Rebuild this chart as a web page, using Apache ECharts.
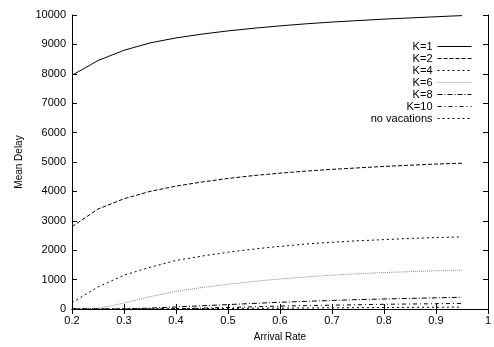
<!DOCTYPE html>
<html>
<head>
<meta charset="utf-8">
<script src="https://cdn.jsdelivr.net/npm/echarts@6/dist/echarts.min.js"></script>
<style>
  html, body { margin: 0; padding: 0; background: #fff; }
  #chart { width: 494px; height: 347px; }
</style>
</head>
<body>
<div id="chart"></div>
<script>
// x values (arrival rate)
const rates = [0.2, 0.25, 0.3, 0.35, 0.4, 0.45, 0.5, 0.55, 0.6, 0.65, 0.7, 0.75, 0.8, 0.85, 0.9, 0.95];

// mean delay per K
const k1 = [7950, 8450, 8800, 9050, 9220, 9350, 9460, 9550, 9630, 9700, 9760, 9810, 9860, 9900, 9940, 9980];
const k2 = [2800, 3400, 3750, 4000, 4180, 4320, 4440, 4540, 4620, 4690, 4750, 4800, 4850, 4890, 4930, 4960];
const k4 = [220, 750, 1150, 1420, 1650, 1800, 1930, 2040, 2130, 2210, 2270, 2320, 2360, 2400, 2430, 2450];
const k6 = [0, 20, 200, 420, 600, 730, 840, 940, 1020, 1090, 1150, 1200, 1240, 1270, 1300, 1320];
const k8 = [0, 0, 0, 30, 70, 110, 150, 190, 230, 260, 290, 320, 340, 360, 380, 400];
const k10 = [0, 0, 0, 0, 10, 30, 50, 75, 100, 115, 130, 145, 160, 170, 180, 190];
const noVac = [0, 0, 0, 5, 10, 15, 20, 25, 30, 35, 40, 45, 50, 55, 60, 65];

const font = 'Liberation Sans, Arial, sans-serif';

function mk(name, vals, type, color, width) {
  return {
    name: name,
    type: 'line',
    data: rates.map((r, i) => [r, vals[i]]),
    symbol: 'none',
    animation: false,
    lineStyle: { color: color, width: width || 1, type: type },
    itemStyle: { color: color }
  };
}

const chart = echarts.init(document.getElementById('chart'));
chart.setOption({
  animation: false,
  grid: { left: 72, right: 5, top: 15, bottom: 33 },
  legend: {
    orient: 'vertical',
    right: 17,
    top: 36,
    align: 'right',
    itemGap: 1,
    itemWidth: 34,
    itemHeight: 11,
    itemStyle: { color: 'transparent', borderWidth: 0, opacity: 0 },
    lineStyle: { width: 1 },
    textStyle: { fontFamily: font, fontSize: 11, color: '#000' },
    data: ['K=1', 'K=2', 'K=4', 'K=6', 'K=8', 'K=10', 'no vacations']
  },
  xAxis: [{
    type: 'value',
    min: 0.2, max: 1, interval: 0.1,
    name: 'Arrival Rate',
    nameLocation: 'middle',
    nameGap: 23,
    nameTextStyle: { fontFamily: font, fontSize: 10, color: '#000' },
    axisLine: { lineStyle: { color: '#000', width: 1 } },
    axisTick: { inside: true, length: 5, lineStyle: { color: '#000' } },
    axisLabel: { fontFamily: font, fontSize: 11, color: '#000', margin: 6,
      formatter: v => (Math.round(v * 10) / 10).toString() },
    splitLine: { show: false }
  }, {
    type: 'value', position: 'top',
    min: 0.2, max: 1, interval: 0.1,
    axisLine: { lineStyle: { color: '#000' } },
    axisTick: { inside: true, length: 5, lineStyle: { color: '#000' } },
    axisLabel: { show: false },
    splitLine: { show: false }
  }],
  yAxis: [{
    type: 'value',
    min: 0, max: 10000, interval: 1000,
    name: 'Mean Delay',
    nameLocation: 'middle',
    nameGap: 41,
    nameTextStyle: { fontFamily: font, fontSize: 10, color: '#000' },
    axisLine: { show: true, lineStyle: { color: '#000' } },
    axisTick: { show: true, inside: true, length: 5, lineStyle: { color: '#000' } },
    axisLabel: { fontFamily: font, fontSize: 11, color: '#000', margin: 6,
      formatter: v => String(v) },
    splitLine: { show: false }
  }, {
    type: 'value', position: 'right',
    min: 0, max: 10000, interval: 1000,
    axisLine: { show: true, lineStyle: { color: '#000' } },
    axisTick: { show: true, inside: true, length: 5, lineStyle: { color: '#000' } },
    axisLabel: { show: false },
    splitLine: { show: false }
  }],
  series: [
    mk('K=1', k1, 'solid', '#000'),
    mk('K=2', k2, [4, 2], '#000'),
    mk('K=4', k4, [2, 3], '#000'),
    mk('K=6', k6, [1, 1], '#888'),
    mk('K=8', k8, [5, 2, 1, 2], '#000'),
    mk('K=10', k10, [4, 3, 1, 3], '#000'),
    mk('no vacations', noVac, [2, 3], '#000')
  ]
});
</script>
</body>
</html>
